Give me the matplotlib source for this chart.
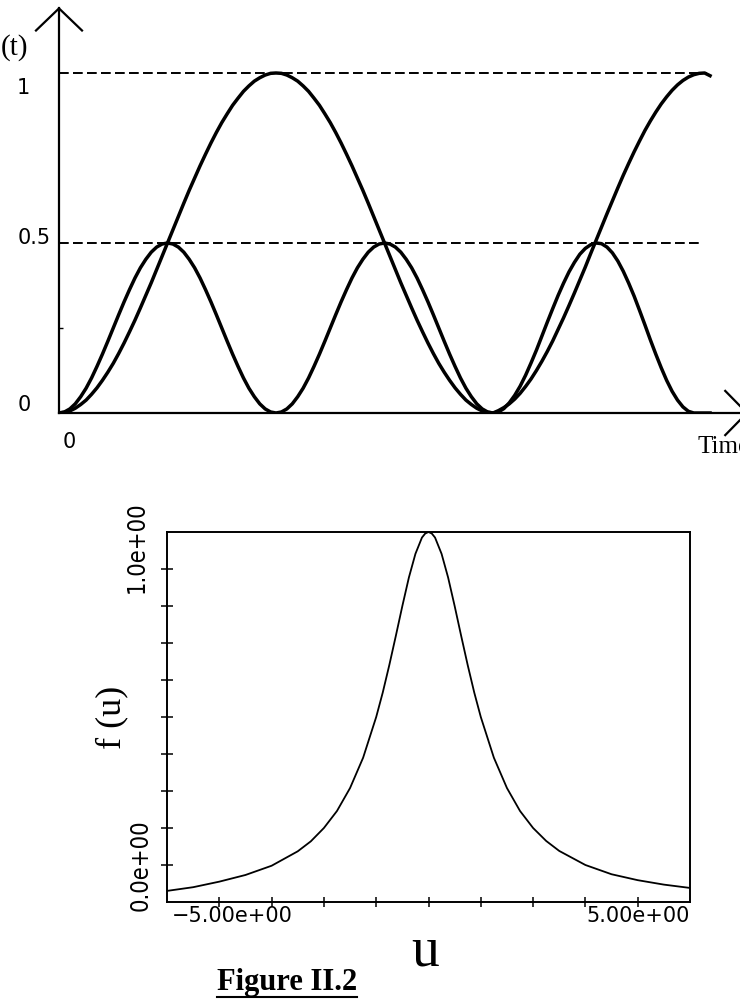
import numpy as np
import matplotlib.pyplot as plt
from matplotlib.lines import Line2D
from matplotlib import font_manager

W, H = 740, 1001

# top panel: two oscillating probabilities (time in units of the big period)
time = np.linspace(0, 1.5, 121)
p_big = [0, .002, .006, .014, .025, .038, .055, .074, .096, .120, .146, .175, .206, .239, .273, .309, .346, .383,
         .422, .461, .500, .539, .578, .617, .655, .691, .727, .761, .794, .825, .854, .880, .905, .926, .946, .962,
         .976, .986, .994, .999, 1.0,
         .999, .994, .986, .976, .962, .946, .926, .905, .880, .854, .825, .794, .761, .727, .691, .655, .617, .578,
         .539, .500, .461, .422, .383, .346, .309, .273, .239, .206, .175, .146, .120, .096, .074, .055, .038, .025,
         .014, .006, .002, 0,
         .007, .016, .027, .041, .058, .078, .100, .125, .152, .181, .212, .246, .280, .316, .353, .391, .429, .469,
         .508, .547, .586, .624, .662, .699, .734, .768, .800, .831, .859, .885, .909, .930, .949, .965, .978, .988,
         .995, .999, 1.0, .992]
p_small = [0, .003, .012, .027, .048, .073, .103, .137, .173, .211, .25, .289, .327, .363, .397, .427, .452, .473,
           .488, .497, .5, .497, .488, .473, .452, .427, .397, .363, .327, .289, .25, .211, .173, .137, .103, .073,
           .048, .027, .012, .003, 0,
           .003, .012, .027, .048, .073, .103, .137, .173, .211, .25, .289, .327, .363, .397, .427, .452, .473, .488,
           .497, .5, .497, .488, .473, .452, .427, .397, .363, .327, .289, .25, .211, .173, .137, .103, .073, .048,
           .027, .012, .003, 0,
           .003, .013, .030, .052, .079, .111, .147, .185, .226, .267, .307, .346, .382, .415, .443, .467, .484, .495,
           .500, .498, .488, .471, .447, .417, .382, .344, .302, .259, .215, .173, .133, .096, .064, .038, .018, .005,
           0, 0, 0, 0]
ref_levels = [1.0, 0.5]
ref_ends = [1.493, 1.477]

# bottom panel: f(u)
u = [-5, -4.5, -4, -3.5, -3, -2.5, -2.25, -2, -1.75, -1.5, -1.25, -1, -0.875, -0.75, -0.625, -0.5, -0.375, -0.25,
     -0.125, -0.0625, 0, 0.0625, 0.125, 0.25, 0.375, 0.5, 0.625, 0.75, 0.875, 1, 1.25, 1.5, 1.75, 2, 2.25, 2.5,
     3, 3.5, 4, 4.5, 5]
f_u = [.03, .04, .055, .073, .098, .137, .164, .2, .246, .308, .39, .5, .566, .64, .719, .8, .877, .941,
       .985, .996, 1.0, .996, .985, .941, .877, .8, .719, .64, .566, .5, .39, .308, .246, .2, .165, .138,
       .1, .075, .059, .047, .038]
u_ticks = [-4, -3, -2, -1, 0, 1, 2, 3, 4]
f_ticks = [0.1, 0.2, 0.3, 0.4, 0.5, 0.6, 0.7, 0.8, 0.9]


def fx(x):
    return x / W


def fy(y):
    return 1 - y / H


# a narrow face for the rotated tick labels, if one is installed
fonts = font_manager.fontManager.ttflist
if any(f.name == 'Liberation Sans Narrow' for f in fonts):
    narrow = dict(family='Liberation Sans Narrow', fontsize=18)
elif any(f.name == 'DejaVu Sans' and f.stretch == 'condensed' for f in fonts):
    narrow = dict(family='DejaVu Sans', stretch='condensed', fontsize=17)
else:
    narrow = dict(family='Liberation Serif', fontsize=19)

fig = plt.figure(figsize=(7.4, 10.01), dpi=100)

## top panel ##
ax1 = fig.add_axes([59 / W, 1 - 413 / H, (W - 59) / W, (413 - 8.4) / H])
ax1.set_xlim(0, 1.569)
ax1.set_ylim(0, 1.19)
ax1.spines['top'].set_visible(False)
ax1.spines['right'].set_visible(False)
ax1.spines['left'].set_linewidth(1.6)
ax1.spines['bottom'].set_linewidth(1.6)
ax1.set_xticks([])
ax1.set_yticks([0.25])
ax1.set_yticklabels([''])
ax1.tick_params(axis='y', direction='in', length=3, width=1)

for level, end in zip(ref_levels, ref_ends):
    ax1.plot([0, end], [level, level], color='black', lw=1.4, ls=(0, (5, 2.2)))

ax1.plot(time, p_big, color='black', lw=2.5, solid_joinstyle='round')
ax1.plot(time, p_small, color='black', lw=2.5, solid_joinstyle='round')

# open arrow heads on both axes
ax1.plot([-0.053, 0, 0.053], [1.125, 1.19, 1.125], color='black', lw=1.6, clip_on=False)
ax1.plot([1.535, 1.585, 1.535], [0.065, 0, -0.065], color='black', lw=1.6, clip_on=False)

fig.text(fx(1), fy(48), "(t)", family='Liberation Serif', fontsize=21, ha='left', va='center')
fig.text(fx(23), fy(88), "1", family='DejaVu Sans', fontsize=15, ha='center', va='center')
fig.text(fx(34), fy(238), "0.5", family='DejaVu Sans', fontsize=15, ha='center', va='center')
fig.text(fx(24), fy(405), "0", family='DejaVu Sans', fontsize=15, ha='center', va='center')
fig.text(fx(69), fy(442), "0", family='DejaVu Sans', fontsize=15, ha='center', va='center')
fig.text(fx(698), fy(447), "Time", family='Liberation Serif', fontsize=18, ha='left', va='center')

## bottom panel ##
ax2 = fig.add_axes([167 / W, 1 - 902 / H, (690 - 167) / W, (902 - 532) / H])
ax2.plot(u, f_u, color='black', lw=1.3, solid_joinstyle='round')
ax2.set_xlim(-5, 5)
ax2.set_ylim(0, 1)
ax2.set_xticks(u_ticks)
ax2.set_xticklabels([])
ax2.set_yticks(f_ticks)
ax2.set_yticklabels([])
ax2.tick_params(axis='y', direction='inout', length=9, width=1.1)
ax2.tick_params(axis='x', direction='inout', length=7, width=1.1)
for s in ax2.spines.values():
    s.set_linewidth(1.4)

fig.text(fx(172), fy(916), "\u22125.00e+00", family='DejaVu Sans', fontsize=15, ha='left', va='center')
fig.text(fx(690), fy(916), "5.00e+00", family='DejaVu Sans', fontsize=15, ha='right', va='center')
fig.text(fx(137), fy(547), "1.0e+00", rotation=90, ha='center', va='center', **narrow)
fig.text(fx(141), fy(865), "0.0e+00", rotation=90, ha='center', va='center', **narrow)
fig.text(fx(112), fy(717), "f (u)", family='Liberation Serif', fontsize=26, rotation=90, ha='center', va='center')
fig.text(fx(425), fy(965), "u", family='Liberation Serif', fontsize=40, ha='center', va='baseline')

cap = fig.text(fx(217), fy(990), "Figure II.2", family='Liberation Serif', fontweight='bold',
               fontsize=22, ha='left', va='baseline')
fig.canvas.draw()
bb = cap.get_window_extent().transformed(fig.transFigure.inverted())
fig.add_artist(Line2D([bb.x0, bb.x1], [bb.y0, bb.y0], transform=fig.transFigure, color='black', lw=1.5))

fig.savefig('out.png', dpi=100)
